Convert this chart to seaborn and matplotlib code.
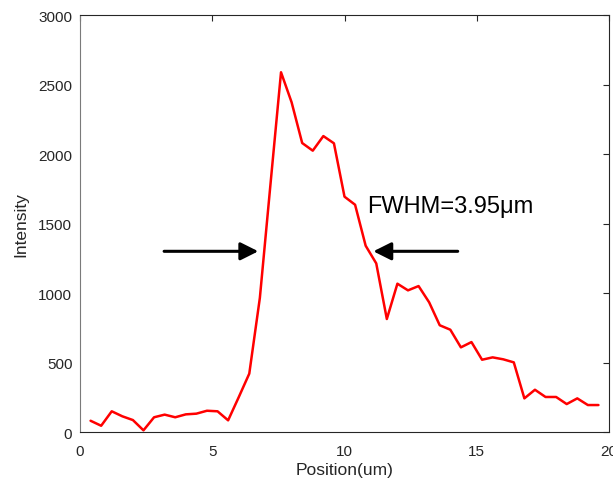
import matplotlib
matplotlib.use("Agg")
import matplotlib.pyplot as plt
import seaborn as sns
import pandas as pd

# Line profile across the feature
position = [0.4, 0.8, 1.2, 1.6, 2.0, 2.4, 2.8, 3.2, 3.6, 4.0,
            4.4, 4.8, 5.2, 5.6, 6.0, 6.4, 6.8, 7.2, 7.6, 8.0,
            8.4, 8.8, 9.2, 9.6, 10.0, 10.4, 10.8, 11.2, 11.6, 12.0,
            12.4, 12.8, 13.2, 13.6, 14.0, 14.4, 14.8, 15.2, 15.6, 16.0,
            16.4, 16.8, 17.2, 17.6, 18.0, 18.4, 18.8, 19.2, 19.6]
intensity = [81, 45, 149, 113, 86, 12, 106, 125, 106, 127,
             132, 153, 149, 84, 250, 420, 965, 1780, 2588, 2372,
             2079, 2024, 2129, 2077, 1693, 1635, 1340, 1213, 813, 1067,
             1019, 1050, 933, 768, 736, 609, 647, 520, 537, 523,
             501, 242, 304, 252, 252, 201, 242, 194, 194]

x_ticks = [0, 5, 10, 15, 20]
y_ticks = [0, 500, 1000, 1500, 2000, 2500, 3000]

# FWHM markers: arrows pointing at the half-maximum crossings
fwhm_label = "FWHM=3.95\u03bcm"
half_max_level = 1300
left_arrow = (3.18, 6.74)    # tail, tip
right_arrow = (14.28, 11.09)  # tail, tip

sns.set_style("white")
plt.rcParams["font.family"] = ["Liberation Sans", "DejaVu Sans"]

dark = "#262626"
fig = plt.figure(figsize=(6.13, 4.85), dpi=100)
ax = fig.add_axes([0.1305, 0.1072, 0.8630, 0.8598])

df = pd.DataFrame({"Position(um)": position, "Intensity": intensity})
sns.lineplot(data=df, x="Position(um)", y="Intensity", ax=ax,
             color="#ff0000", linewidth=1.8)

ax.set_xlim(0, 20)
ax.set_ylim(0, 3000)
ax.set_xticks(x_ticks)
ax.set_yticks(y_ticks)
ax.tick_params(direction="in", length=4, width=0.8, colors=dark,
               labelsize=11, top=True, right=True,
               labeltop=False, labelright=False)
ax.tick_params(axis="x", pad=8.5)
ax.tick_params(axis="y", pad=5.5)
for side, spine in ax.spines.items():
    spine.set_visible(True)
    spine.set_color(dark)
    spine.set_linewidth(0.8)
ax.spines["left"].set_color("#7a7a7a")

ax.set_xlabel("Position(um)", fontsize=12.5, color=dark, labelpad=3)
ax.set_ylabel("Intensity", fontsize=12.5, color=dark, labelpad=7)

arrow_kw = dict(arrowstyle="-|>,head_length=0.54,head_width=0.27",
                color="black", lw=2.2, shrinkA=0, shrinkB=0,
                mutation_scale=20)
for tail, tip in (left_arrow, right_arrow):
    ax.annotate("", xy=(tip, half_max_level), xytext=(tail, half_max_level),
                arrowprops=arrow_kw)

ax.text(10.84, 1583, fwhm_label, fontsize=17, color="black",
        ha="left", va="baseline")

fig.savefig("out.png", dpi=100)
